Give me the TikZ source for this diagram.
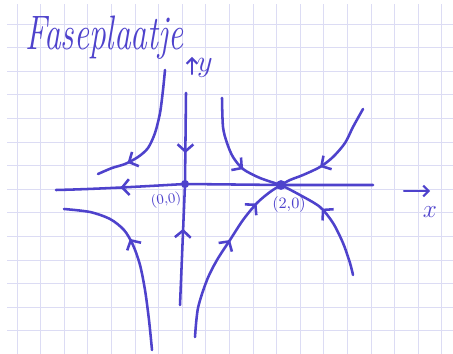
\documentclass[tikz,border=0pt]{standalone}
\usetikzlibrary{arrows.meta,decorations.markings}
\definecolor{ink}{RGB}{78,66,204}
\definecolor{paper}{RGB}{220,220,244}
\begin{document}
\begin{tikzpicture}[
		x=0.02cm, y=-0.02cm,
		grid line/.style={paper, line width=0.5pt},
		trajectory/.style={ink, line width=1.45pt, line cap=round, line join=round},
		barb/.style={-{Straight Barb[length=3pt,width=6pt]}},
		flow/.style={
			postaction={decorate},
			decoration={markings,
				mark=at position #1 with {\arrow{Straight Barb[length=4pt,width=9pt]}}}
		},
		flow twice/.style 2 args={
			postaction={decorate},
			decoration={markings,
				mark=at position #1 with {\arrow{Straight Barb[length=4pt,width=9pt]}},
				mark=at position #2 with {\arrow{Straight Barb[length=4pt,width=9pt]}}}
		},
		label node/.style={ink, inner sep=0pt}
		]
		\fill[white] (0,0) rectangle (453,354);
		\useasboundingbox (0,0) rectangle (453,354);
		
		\begin{scope}
			\clip (7,5) rectangle (453,354);
			\foreach \k in {0,...,18}
				\draw[grid line] (17+23.6*\k,0) -- (17+23.6*\k,354);
			\foreach \k in {0,...,14}
				\draw[grid line] (0,24+23.6*\k) -- (453,24+23.6*\k);
		\end{scope}
		
		\coordinate (O) at (185,184);
		\coordinate (P) at (281,185);
		\coordinate (xleft) at (56,190);
		\coordinate (xright) at (373,185);
		\coordinate (ytop) at (186,93);
		\coordinate (ybottom) at (180,305);
		
		% axes through the saddle
		\draw[trajectory, flow=0.5] (O) .. controls (150,186) and (100,189) .. (xleft);
		\draw[trajectory] (O) -- (P) -- (xright);
		\draw[trajectory, flow=0.66] (ytop) -- (O);
		\draw[trajectory, flow=0.63] (ybottom) -- (O);
		
		% orbits
		\draw[trajectory, flow=0.77] plot[smooth] coordinates {(165,70) (163,90) (160,113) (155,133) (148,148) (138,157) (125,164) (112,168) (98,174)};
		\draw[trajectory, flow=0.6] plot[smooth] coordinates {(152,350) (149,320) (145,290) (140,265) (133,245) (124,230) (110,219) (90,212) (64,209)};
		\draw[trajectory, flow=0.65] plot[smooth] coordinates {(222,98) (223,127) (227,143) (233,157) (243,169) (260,178) (P)};
		\draw[trajectory, flow=0.63] plot[smooth] coordinates {(363,109) (353,127) (345,143) (333,157) (320,167) (303,175) (290,180) (P)};
		\draw[trajectory, flow twice={0.58}{0.83}] plot[smooth] coordinates {(195,337) (198,308) (207,280) (217,260) (230,240) (243,220) (257,203) (270,192) (P)};
		\draw[trajectory, flow=0.61] plot[smooth] coordinates {(353,275) (350,263) (343,243) (333,223) (320,207) (300,195) (P)};
		
		\fill[ink] (O) circle (2.3pt);
		\fill[ink] (P) circle (2.8pt);
		
		\node[label node, font=\footnotesize, rotate=8] (zero) at (166,200) {(0,0)};
		\node[label node, font=\small] (two) at (289,205) {(2,0)};
		
		\coordinate (ytail) at (192,74);
		\coordinate (yhead) at (192,57);
		\draw[trajectory, line width=1.2pt, barb] (ytail) -- (yhead);
		\node[label node, font=\LARGE] (ylabel) at (205,68) {$y$};
		
		\coordinate (xtail) at (404,191);
		\coordinate (xhead) at (430,191);
		\draw[trajectory, line width=1.2pt, barb] (xtail) -- (xhead);
		\node[label node, font=\Large] (xlabel) at (430,212) {$x$};
		
		\node[label node, font=\fontsize{19}{22}\selectfont\itshape, yscale=1.45, anchor=base west] (title) at (25,50) {Faseplaatje};
		
	\end{tikzpicture}
\end{document}
